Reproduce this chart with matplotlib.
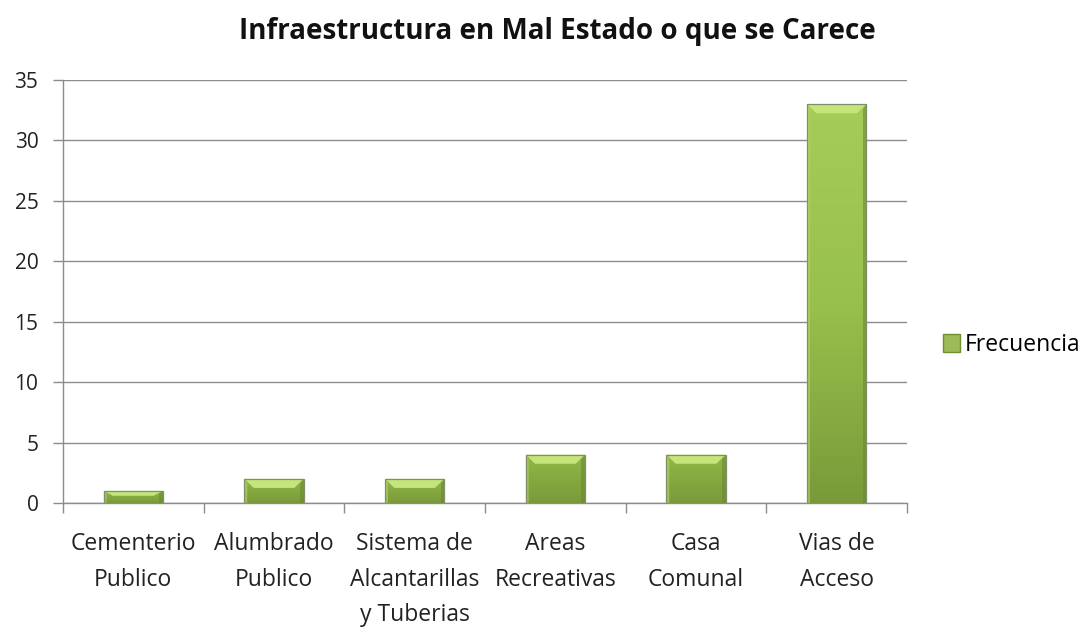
import matplotlib
matplotlib.use("Agg")
import matplotlib.pyplot as plt
import numpy as np
from matplotlib.colors import LinearSegmentedColormap
from matplotlib.patches import Polygon, Patch

title = "Infraestructura en Mal Estado o que se Carece"
categories = ["Cementerio\nPublico", "Alumbrado\nPublico", "Sistema de\nAlcantarillas\ny Tuberias",
              "Areas\nRecreativas", "Casa\nComunal", "Vias de\nAcceso"]
values = [1, 2, 2, 4, 4, 33]
series_name = "Frecuencia"
yticks = [0, 5, 10, 15, 20, 25, 30, 35]

plt.rcParams['font.family'] = ['Open Sans', 'DejaVu Sans']

fig = plt.figure(figsize=(10.84, 6.28), dpi=100)
ax = fig.add_axes([63/1084, 1-503/628, (907-63)/1084, (503-80)/628])

x = np.arange(len(values))
width = 0.42
bars = ax.bar(x, values, width=width, color='#9bbb59', edgecolor='none', zorder=3)

cmap = LinearSegmentedColormap.from_list('g', ['#7a9a3a', '#98c04c', '#a6cc58'])
for b, v in zip(bars, values):
    x0 = b.get_x(); w = b.get_width(); h = b.get_height()
    grad = np.linspace(0, 1, 256).reshape(-1, 1)
    im = ax.imshow(grad, extent=[x0, x0 + w, 0, h], origin='lower', cmap=cmap,
                   aspect='auto', zorder=3.5, vmin=0, vmax=1.0 if h > 10 else 2.5)
    im.set_clip_path(b)
    bh = min(0.75, h * 0.4)
    ins = 0.065
    ax.add_patch(Polygon([[x0, 0], [x0, h], [x0 + 0.02, h - bh * 0.5], [x0 + 0.02, 0]],
                         closed=True, facecolor='#b5d86a', alpha=0.6, edgecolor='none', zorder=4))
    ax.add_patch(Polygon([[x0 + w, h], [x0 + w, 0], [x0 + w - 0.025, 0], [x0 + w - 0.025, h - bh * 0.5]],
                         closed=True, facecolor='#6a8a30', alpha=0.6, edgecolor='none', zorder=4))
    ax.add_patch(Polygon([[x0, h], [x0 + w, h], [x0 + w - ins, h - bh], [x0 + ins, h - bh]],
                         closed=True, facecolor='#c5e57a', edgecolor='none', zorder=4.2))
    ax.add_patch(Polygon([[x0, 0], [x0 + w, 0], [x0 + w, h], [x0, h]], closed=True,
                         facecolor='none', edgecolor='#7f8f68', linewidth=0.9, zorder=4.5))

ax.set_xlim(-0.5, len(values) - 0.5)
ax.set_ylim(0, 35)
ax.set_yticks(yticks)
ax.set_yticklabels([str(t) for t in yticks], fontsize=15, color='#222222')
ax.yaxis.grid(True, color='#8c8c8c', linewidth=1.0, zorder=0)
ax.set_axisbelow(True)

ax.set_xticks(x)
ax.set_xticklabels(categories, fontsize=16.5, color='#222222', linespacing=1.64)
ax.tick_params(axis='x', length=0, pad=21)
ax.set_xticks(np.arange(-0.5, len(values), 1.0), minor=True)
ax.tick_params(axis='x', which='minor', length=7, color='#8c8c8c', width=1.0)
ax.tick_params(axis='y', length=7.2, color='#8c8c8c', width=1.0, pad=10.5)

for s in ['top', 'right']:
    ax.spines[s].set_visible(False)
for s in ['left', 'bottom']:
    ax.spines[s].set_color('#8c8c8c')
    ax.spines[s].set_linewidth(1.0)

fig.text(557/1084, 1-32/628, title, ha='center', va='center', fontsize=20, fontweight='bold', color='#111111')

handle = Patch(facecolor='#9bbb59', edgecolor='#6f8e35', label=series_name)
leg = fig.legend(handles=[handle], loc='center left', bbox_to_anchor=(943/1084, 1-345/628),
                 frameon=False, fontsize=16.5, handlelength=0.75, handleheight=0.87,
                 handletextpad=0.2, borderpad=0, borderaxespad=0)

fig.savefig('out.png', dpi=100)
